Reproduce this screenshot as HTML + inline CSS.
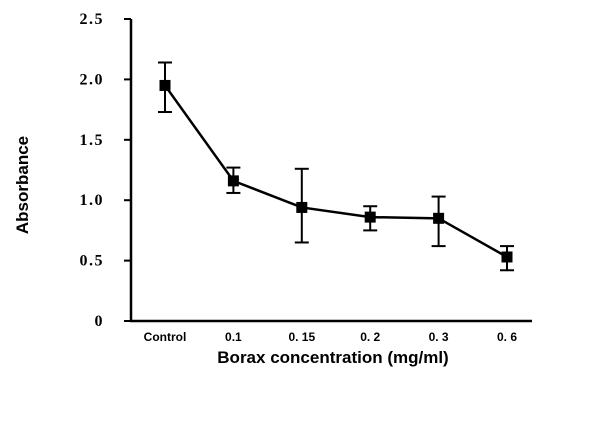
<!DOCTYPE html>
<html><head><meta charset="utf-8"><style>
body{margin:0;background:#fff;}
svg text{fill:#000;}
</style></head><body>
<svg width="600" height="423" viewBox="0 0 600 423" xmlns="http://www.w3.org/2000/svg">
<g id="axes"></g>
<g id="marks"></g>
<text x="28" y="185" transform="rotate(-90 28 185)" text-anchor="middle" font-family="Liberation Sans, sans-serif" font-weight="bold" font-size="17">Absorbance</text>
<text x="333" y="363" text-anchor="middle" font-family="Liberation Sans, sans-serif" font-weight="bold" font-size="17">Borax concentration (mg/ml)</text>
<script>
const categories=["Control","0.1","0. 15","0. 2","0. 3","0. 6"];
const means=[1.95,1.16,0.94,0.86,0.85,0.53];
const errUp=[2.14,1.27,1.26,0.95,1.03,0.62];
const errDown=[1.73,1.06,0.65,0.75,0.62,0.42];
const yTicks=[0,0.5,1.0,1.5,2.0,2.5];
const yTickLabels=["0","0.5","1.0","1.5","2.0","2.5"];
const NS="http://www.w3.org/2000/svg";
const x0=131,x1=532,yBase=321,yTop=19,yMax=2.5;
function ys(v){return yBase-(v/yMax)*(yBase-yTop);}
const xPos=[165,233,303,369,438,507];
function xs(i){return xPos[0]+i*(xPos[5]-xPos[0])/(categories.length-1);}
function mk(tag,attrs,parent){const e=document.createElementNS(NS,tag);for(const k in attrs)e.setAttribute(k,attrs[k]);parent.appendChild(e);return e;}
const ax=document.getElementById('axes'),mg=document.getElementById('marks');
let l=mk('line',{x1:x0,y1:yTop,x2:x0,y2:yBase+1,stroke:'#000','stroke-width':2.5},ax);


l=mk('line',{x1:x0-1,y1:yBase,x2:x1,y2:yBase,stroke:'#000','stroke-width':2.5},ax);


yTicks.forEach((v,i)=>{
  const t=mk('line',{x1:x0-7,y1:ys(v),x2:x0,y2:ys(v),stroke:'#000','stroke-width':2},ax);
  
  
  const tx=mk('text',{x:104,y:ys(v)+5,'text-anchor':'end','font-family':'Liberation Serif, serif','font-weight':'bold','font-size':16,'letter-spacing':1.5},ax);
  tx.textContent=yTickLabels[i];
  
  
});
categories.forEach((c,i)=>{
  const tx=mk('text',{x:xs(i),y:341,'text-anchor':'middle','font-family':'Liberation Sans, sans-serif','font-weight':'bold','font-size':12},ax);
  tx.textContent=c;
  
  
});
const pts=means.map((v,i)=>xs(i)+','+ys(v)).join(' ');
const pl=mk('polyline',{points:pts,fill:'none',stroke:'#000','stroke-width':2.5},mg);


means.forEach((v,i)=>{
  const x=xs(i);
  const g=mk('g',{},mg);
  
  
  mk('line',{x1:x,y1:ys(errUp[i]),x2:x,y2:ys(errDown[i]),stroke:'#000','stroke-width':2},g);
  mk('line',{x1:x-7,y1:ys(errUp[i]),x2:x+7,y2:ys(errUp[i]),stroke:'#000','stroke-width':2},g);
  mk('line',{x1:x-7,y1:ys(errDown[i]),x2:x+7,y2:ys(errDown[i]),stroke:'#000','stroke-width':2},g);
  const r=mk('rect',{x:x-5.5,y:ys(v)-5.5,width:11,height:11,fill:'#000'},mg);
  
  
});
</script>
</svg>
</body></html>
